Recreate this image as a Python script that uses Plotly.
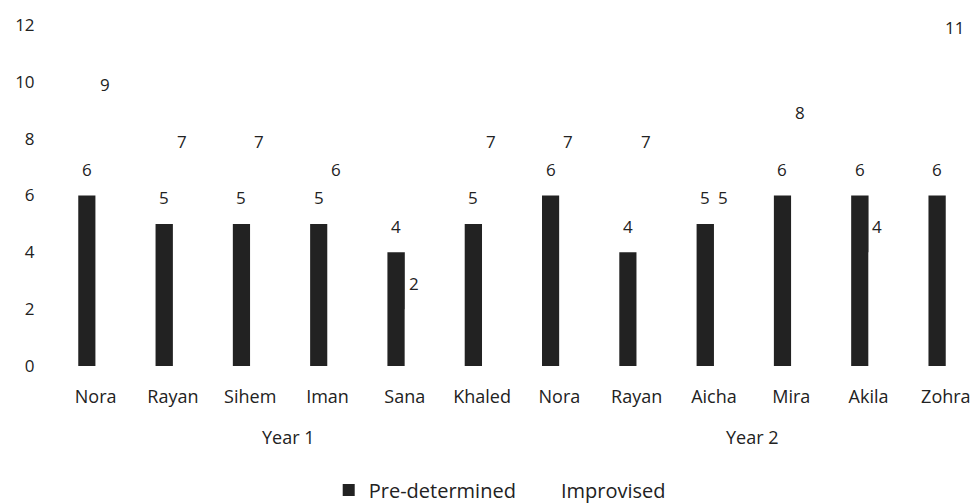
import plotly.graph_objects as go

# Students per year, in display order
names = ["Nora", "Rayan", "Sihem", "Iman", "Sana", "Khaled",
         "Nora", "Rayan", "Aicha", "Mira", "Akila", "Zohra"]
years = ["Year 1", "Year 2"]
students_per_year = [6, 6]

pre_determined = [6, 5, 5, 5, 4, 5, 6, 4, 5, 6, 6, 6]
improvised = [9, 7, 7, 6, 2, 7, 7, 7, 5, 8, 4, 11]

y_ticks = [0, 2, 4, 6, 8, 10, 12]

FONT = "Open Sans"
INK = "#222222"
positions = list(range(len(names)))
half = 0.115  # offset of each bar from its category centre

fig = go.Figure()
fig.add_trace(go.Bar(
    name="Pre-determined", x=positions, y=pre_determined,
    marker=dict(color=INK, line=dict(width=0)),
))
fig.add_trace(go.Bar(
    name="Improvised", x=positions, y=improvised,
    marker=dict(color="#ffffff", line=dict(width=0)),
))

# value labels above each bar
annotations = []
for series, shift in ((pre_determined, -half), (improvised, half)):
    for i, v in enumerate(series):
        annotations.append(dict(
            x=i + shift, y=v, xref="x", yref="y", text=str(v),
            showarrow=False, yshift=26, yanchor="middle",
            font=dict(family=FONT, size=17, color=INK),
        ))

# group labels under the student names
start = 0
for year, count in zip(years, students_per_year):
    annotations.append(dict(
        x=start + (count - 1) / 2, y=-0.208, xref="x", yref="paper",
        text=year, showarrow=False, yanchor="middle",
        font=dict(family=FONT, size=18, color=INK),
    ))
    start += count

fig.update_layout(
    width=976, height=504,
    margin=dict(l=57, r=0, t=25, b=138),
    paper_bgcolor="white", plot_bgcolor="white",
    barmode="group", bargap=0.55, bargroupgap=0,
    font=dict(family=FONT, size=18, color=INK),
    annotations=annotations,
    showlegend=True,
    legend=dict(
        orientation="h", xref="container", yref="container",
        x=0.512, xanchor="center", y=0.028, yanchor="middle",
        font=dict(family=FONT, size=20, color=INK),
        itemwidth=30,
    ),
    xaxis=dict(
        range=[-0.5, 11.39], tickmode="array", tickvals=positions, ticktext=names,
        showgrid=False, zeroline=False, showline=False,
        ticks="outside", ticklen=14, tickcolor="rgba(0,0,0,0)",
        tickfont=dict(family=FONT, size=18, color=INK),
    ),
    yaxis=dict(
        range=[0, 12], tickmode="array", tickvals=y_ticks,
        showgrid=False, zeroline=False, showline=False,
        ticks="outside", ticklen=18, tickcolor="rgba(0,0,0,0)",
        tickfont=dict(family=FONT, size=17, color=INK),
    ),
)

fig.write_html("out.html")
